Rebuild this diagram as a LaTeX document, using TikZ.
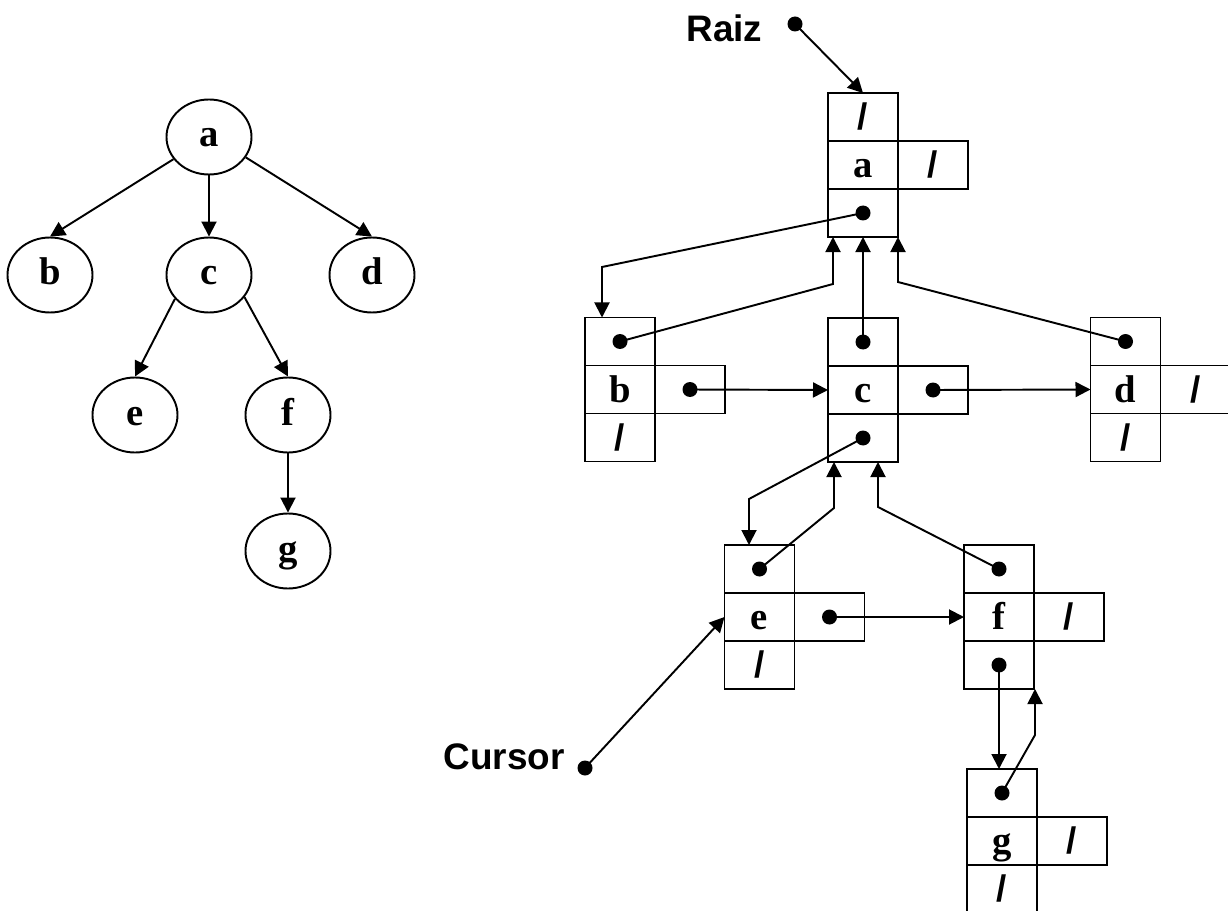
\documentclass[tikz,border=0pt]{standalone}
\usepackage{fontspec}
\setmainfont{Liberation Serif}
\newfontfamily\arial{Liberation Sans}
\usetikzlibrary{arrows.meta,positioning,shapes.geometric}

\newcommand{\nulo}{{\arial\fontsize{21}{24}\selectfont /}}
% record: parent, data, sibling and first child cells
\newcommand{\registro}[6]{%
  \node[celda] (#1-i) at (#2) {#4};
  \node[celda, above=0pt of #1-i] (#1-p) {#3};
  \node[celda, below=0pt of #1-i] (#1-h) {#6};
  \node[celda, right=0pt of #1-i] (#1-s) {#5};
}

\begin{document}
\begin{tikzpicture}[
    letra/.style={font=\fontsize{22}{26}\selectfont\bfseries, text depth=0.1cm},
    nodo/.style={ellipse, draw, line width=1.1pt, minimum width=1.7cm, minimum height=1.5cm, inner sep=0pt, letra, text height=0.5cm},
    celda/.style={rectangle, draw, line width=1.1pt, minimum width=1.4cm, minimum height=0.96cm, inner sep=0pt, outer sep=0pt, letra, text height=0.6cm},
    flecha/.style={-{Triangle[length=0.3cm,width=0.3cm]}, line width=1.1pt},
    etiqueta/.style={font=\arial\fontsize{21}{25}\selectfont\bfseries},
    punto/.style={circle, fill, minimum size=0.3cm, inner sep=0pt}
]
    \useasboundingbox (0,0) rectangle (24.56,18.2);
    % Tree
    \node[nodo] (n-a) at (4.18,15.46) {a};
    \node[nodo] (n-b) at (1.00,12.70) {b};
    \node[nodo] (n-c) at (4.18,12.70) {c};
    \node[nodo] (n-d) at (7.44,12.70) {d};
    \node[nodo] (n-e) at (2.70,9.90) {e};
    \node[nodo] (n-f) at (5.76,9.90) {f};
    \node[nodo] (n-g) at (5.76,7.18) {g};
    \draw[flecha] (n-a.212) -- (n-b.north);
    \draw[flecha] (n-a.south) -- (n-c.north);
    \draw[flecha] (n-a.331) -- (n-d.north);
    \draw[flecha] (n-c.215) -- (n-e.north);
    \draw[flecha] (n-c.328) -- (n-f.north);
    \draw[flecha] (n-f.south) -- (n-g.north);
    % Records
    \registro{a}{17.26,14.90}{\nulo}{a}{\nulo}{}
    \registro{b}{12.40,10.41}{}{b}{}{\nulo}
    \registro{c}{17.26,10.40}{}{c}{}{}
    \registro{d}{22.51,10.41}{}{d}{\nulo}{\nulo}
    \registro{e}{15.19,5.86}{}{e}{}{\nulo}
    \registro{f}{19.98,5.86}{}{f}{\nulo}{}
    \registro{g}{20.04,1.38}{}{g}{\nulo}{\nulo}
    \foreach \c in {a-h,b-p,b-s,c-p,c-s,c-h,d-p,e-p,e-s,f-p,f-h,g-p}
        \fill (\c) circle (0.15);
    % Raiz and Cursor
    \node[etiqueta] (raiz) at (14.49,17.64) {Raiz};
    \node[punto] (raiz-pt) at (15.90,17.72) {};
    \node[etiqueta] (cursor) at (10.08,3.06) {Cursor};
    \node[punto] (cursor-pt) at (11.70,2.84) {};
    \draw[flecha] (raiz-pt.center) -- (a-p.north);
    \draw[flecha] (cursor-pt.center) -- (e-i.west);
    % Pointers between records
    \coordinate (q-ab) at (12.04,12.86);
    \draw[flecha] (a-h.center) -- (q-ab) -- (q-ab |- b-p.north);
    \coordinate (q-ba) at (16.66,12.52);
    \draw[flecha] (b-p.center) -- (q-ba) -- (q-ba |- a-h.south);
    \draw[flecha] (c-p.center) -- (a-h.south);
    \coordinate (q-da) at (17.96,12.56);
    \draw[flecha] (d-p.center) -- (q-da) -- (q-da |- a-h.south);
    \draw[flecha] (b-s.center) -- (c-i.west);
    \draw[flecha] (c-s.center) -- (d-i.west);
    \coordinate (q-ce) at (14.98,8.22);
    \draw[flecha] (c-h.center) -- (q-ce) -- (q-ce |- e-p.north);
    \coordinate (q-ec) at (16.68,8.04);
    \draw[flecha] (e-p.center) -- (q-ec) -- (q-ec |- c-h.south);
    \coordinate (q-fc) at (17.56,8.06);
    \draw[flecha] (f-p.center) -- (q-fc) -- (q-fc |- c-h.south);
    \draw[flecha] (e-s.center) -- (f-i.west);
    \draw[flecha] (f-h.center) -- (f-h.center |- g-p.north);
    \coordinate (q-gf) at (20.70,3.50);
    \draw[flecha] (g-p.center) -- (q-gf) -- (q-gf |- f-h.south);
\end{tikzpicture}
\end{document}
